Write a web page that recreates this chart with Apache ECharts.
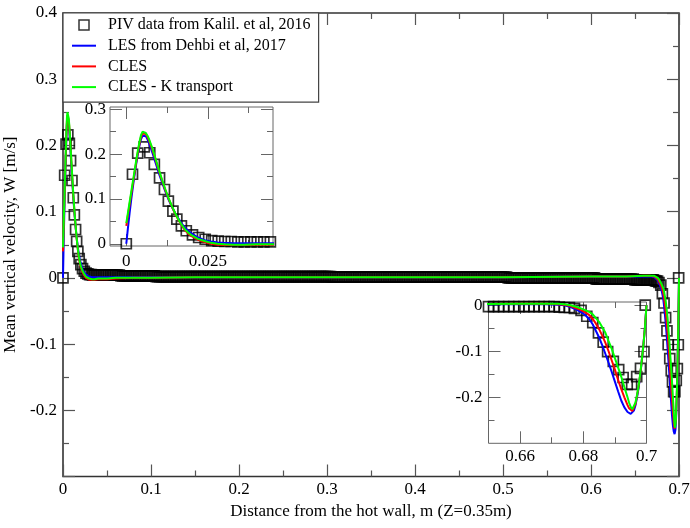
<!DOCTYPE html>
<html><head><meta charset="utf-8">
<script src="https://cdn.jsdelivr.net/npm/echarts@6/dist/echarts.min.js"></script>
<style>html,body{margin:0;padding:0;background:#fff}#c{width:690px;height:528px}</style>
</head><body><div id="c"></div>
<script>
// ---------- DATA ----------
const seriesNames = ['PIV data from Kalil. et al, 2016', 'LES from Dehbi et al, 2017', 'CLES', 'CLES - K transport'];

// simulation profiles (shared x positions, m)
const lineX = [0,0.0005,0.001,0.0015,0.002,0.0025,0.003,0.0035,0.004,0.0045,
  0.005,0.0055,0.006,0.0065,0.007,0.008,0.009,0.010,0.011,0.012,
  0.013,0.014,0.015,0.016,0.017,0.018,0.019,0.020,0.022,0.024,
  0.026,0.028,0.030,0.033,0.036,0.040,0.045,0.050,0.060,0.080,
  0.100,0.150,0.200,0.300,0.400,0.500,0.600,0.640,0.660,0.668,
  0.672,0.674,0.676,0.678,0.680,0.681,0.682,0.683,0.684,0.685,
  0.686,0.687,0.688,0.689,0.690,0.691,0.692,0.693,0.694,0.6945,
  0.695,0.6955,0.696,0.6965,0.697,0.6975,0.698,0.6985,0.699,0.6995,
  0.700];
const lesW = [0.000,0.035,0.068,0.098,0.126,0.152,0.176,0.198,0.218,0.233,
  0.241,0.243,0.240,0.233,0.224,0.203,0.180,0.157,0.136,0.116,
  0.098,0.082,0.068,0.056,0.045,0.036,0.029,0.023,0.014,0.008,
  0.005,0.003,0.002,0.001,0.001,0.001,0.001,0.001,0.001,0.001,
  0.001,0.001,0.001,0.001,0.001,0.001,0.002,0.002,0.002,0.002,
  0.001,0.000,-0.004,-0.010,-0.018,-0.024,-0.031,-0.042,-0.056,-0.070,
  -0.087,-0.106,-0.125,-0.145,-0.166,-0.187,-0.207,-0.222,-0.232,-0.235,
  -0.236,-0.235,-0.229,-0.218,-0.200,-0.180,-0.153,-0.122,-0.088,-0.048,
  0.000];
const clesW = [0.040,0.064,0.087,0.110,0.133,0.157,0.180,0.202,0.222,0.238,
  0.246,0.248,0.245,0.238,0.230,0.210,0.187,0.163,0.140,0.119,
  0.100,0.083,0.067,0.053,0.041,0.030,0.023,0.017,0.009,0.004,
  0.000,-0.002,-0.003,-0.003,-0.003,-0.002,-0.002,-0.002,-0.001,0.000,
  0.000,0.001,0.001,0.001,0.001,0.001,0.002,0.002,0.003,0.003,
  0.002,0.001,-0.002,-0.007,-0.013,-0.017,-0.022,-0.030,-0.040,-0.052,
  -0.066,-0.082,-0.100,-0.120,-0.140,-0.162,-0.182,-0.200,-0.217,-0.224,
  -0.228,-0.230,-0.226,-0.215,-0.197,-0.177,-0.152,-0.121,-0.088,-0.049,
  0.000];
const clesKW = [0.046,0.069,0.092,0.115,0.138,0.161,0.184,0.206,0.226,0.242,
  0.250,0.251,0.247,0.241,0.233,0.213,0.189,0.165,0.142,0.121,
  0.101,0.084,0.068,0.054,0.042,0.032,0.025,0.019,0.011,0.006,
  0.002,0.000,-0.001,-0.002,-0.002,-0.001,-0.001,-0.001,0.000,0.000,
  0.000,0.001,0.001,0.001,0.001,0.001,0.002,0.002,0.003,0.003,
  0.003,0.002,0.000,-0.004,-0.009,-0.012,-0.015,-0.020,-0.028,-0.036,
  -0.048,-0.060,-0.078,-0.095,-0.115,-0.135,-0.155,-0.178,-0.200,-0.212,
  -0.221,-0.226,-0.222,-0.212,-0.195,-0.175,-0.150,-0.120,-0.088,-0.050,
  0.000];

// PIV measurements: near hot wall
const pivWallX = [0,0.0019,0.0035,0.0055,0.0072,0.0086,0.0102,0.0117,0.0129,0.0143,
  0.0155,0.0169,0.0184,0.0203,0.0222,0.0242,0.0262,0.0282,0.0302,0.0322,
  0.0342,0.0362,0.0382,0.0402,0.0422,0.0442];
const pivWallW = [0,0.155,0.202,0.216,0.203,0.177,0.147,0.121,0.095,0.073,
  0.055,0.040,0.029,0.020,0.014,0.010,0.007,0.006,0.005,0.005,
  0.004,0.004,0.004,0.004,0.004,0.004];
// PIV measurements: core of the cavity
const pivCoreX = [
  0.046,0.048,0.05,0.052,0.054,0.056,0.058,0.06,0.062,0.064,
  0.066,0.068,0.07,0.072,0.074,0.076,0.078,0.08,0.082,0.084,
  0.086,0.088,0.09,0.092,0.094,0.096,0.098,0.1,0.102,0.104,
  0.106,0.108,0.11,0.112,0.114,0.116,0.118,0.12,0.122,0.124,
  0.126,0.128,0.13,0.132,0.134,0.136,0.138,0.14,0.142,0.144,
  0.146,0.148,0.15,0.152,0.154,0.156,0.158,0.16,0.162,0.164,
  0.166,0.168,0.17,0.172,0.174,0.176,0.178,0.18,0.182,0.184,
  0.186,0.188,0.19,0.192,0.194,0.196,0.198,0.2,0.202,0.204,
  0.206,0.208,0.21,0.212,0.214,0.216,0.218,0.22,0.222,0.224,
  0.226,0.228,0.23,0.232,0.234,0.236,0.238,0.24,0.242,0.244,
  0.246,0.248,0.25,0.252,0.254,0.256,0.258,0.26,0.262,0.264,
  0.266,0.268,0.27,0.272,0.274,0.276,0.278,0.28,0.282,0.284,
  0.286,0.288,0.29,0.292,0.294,0.296,0.298,0.3,0.302,0.304,
  0.306,0.308,0.31,0.312,0.314,0.316,0.318,0.32,0.322,0.324,
  0.326,0.328,0.33,0.332,0.334,0.336,0.338,0.34,0.342,0.344,
  0.346,0.348,0.35,0.352,0.354,0.356,0.358,0.36,0.362,0.364,
  0.366,0.368,0.37,0.372,0.374,0.376,0.378,0.38,0.382,0.384,
  0.386,0.388,0.39,0.392,0.394,0.396,0.398,0.4,0.402,0.404,
  0.406,0.408,0.41,0.412,0.414,0.416,0.418,0.42,0.422,0.424,
  0.426,0.428,0.43,0.432,0.434,0.436,0.438,0.44,0.442,0.444,
  0.446,0.448,0.45,0.452,0.454,0.456,0.458,0.46,0.462,0.464,
  0.466,0.468,0.47,0.472,0.474,0.476,0.478,0.48,0.482,0.484,
  0.486,0.488,0.49,0.492,0.494,0.496,0.498,0.5,0.502,0.504,
  0.506,0.508,0.51,0.512,0.514,0.516,0.518,0.52,0.522,0.524,
  0.526,0.528,0.53,0.532,0.534,0.536,0.538,0.54,0.542,0.544,
  0.546,0.548,0.55,0.552,0.554,0.556,0.558,0.56,0.562,0.564,
  0.566,0.568,0.57,0.572,0.574,0.576,0.578,0.58,0.582,0.584,
  0.586,0.588,0.59,0.592,0.594,0.596,0.598,0.6,0.602,0.604,
  0.606,0.608,0.61,0.612,0.614,0.616,0.618,0.62,0.622,0.624,
  0.626,0.628,0.63,0.632,0.634,0.636,0.638,0.64,0.642,0.644,
  0.646,0.648];
const pivCoreW = [
  0.004,0.004,0.004,0.004,0.004,0.004,0.004,0.004,0.004,0.004,
  0.003,0.003,0.003,0.003,0.003,0.003,0.003,0.003,0.003,0.003,
  0.003,0.003,0.003,0.003,0.003,0.003,0.003,0.003,0.003,0.003,
  0.002,0.002,0.002,0.002,0.002,0.002,0.002,0.002,0.002,0.002,
  0.002,0.002,0.002,0.002,0.002,0.002,0.002,0.002,0.002,0.002,
  0.002,0.002,0.002,0.002,0.002,0.002,0.002,0.002,0.002,0.002,
  0.002,0.002,0.002,0.002,0.002,0.002,0.002,0.002,0.002,0.002,
  0.002,0.002,0.002,0.002,0.002,0.002,0.002,0.002,0.002,0.002,
  0.002,0.002,0.002,0.002,0.002,0.002,0.002,0.002,0.002,0.002,
  0.002,0.002,0.002,0.002,0.002,0.002,0.002,0.002,0.002,0.002,
  0.002,0.002,0.002,0.002,0.002,0.002,0.002,0.002,0.002,0.002,
  0.002,0.002,0.002,0.002,0.002,0.002,0.002,0.002,0.002,0.002,
  0.002,0.002,0.002,0.002,0.002,0.002,0.002,0.002,0.002,0.002,
  0.001,0.001,0.001,0.001,0.001,0.001,0.001,0.001,0.001,0.001,
  0.001,0.001,0.001,0.001,0.001,0.001,0.001,0.001,0.001,0.001,
  0.001,0.001,0.001,0.001,0.001,0.001,0.001,0.001,0.001,0.001,
  0.001,0.001,0.001,0.001,0.001,0.001,0.001,0.001,0.001,0.001,
  0.001,0.001,0.001,0.001,0.001,0.001,0.001,0.001,0.001,0.001,
  0.001,0.001,0.001,0.001,0.001,0.001,0.001,0.001,0.001,0.001,
  0.001,0.001,0.001,0.001,0.001,0.001,0.001,0.001,0.001,0.001,
  0.001,0.001,0.001,0.001,0.001,0.001,0.001,0.001,0.001,0.001,
  0.001,0.001,0.001,0.001,0.001,0.001,0.001,0.001,0.001,0.001,
  0.001,0.001,0.001,0.001,0.001,0.001,0.001,0.001,0.001,0.001,
  0,0,0,0,0,0,0,0,0,0,
  0,0,0,0,0,0,0,0,0,0,
  0,0,0,0,0,0,0,0,0,0,
  0,0,0,0,0,0,0,0,0,0,
  0,0,0,0,0,0,0,0,0,0,
  -0.002,-0.002,-0.002,-0.002,-0.002,-0.002,-0.002,-0.002,-0.002,-0.002,
  -0.002,-0.002,-0.002,-0.002,-0.002,-0.002,-0.002,-0.002,-0.002,-0.002,
  -0.002,-0.002];
// PIV measurements: near cold wall
const pivColdX = [0.650,0.6516,0.6532,0.6548,0.6564,0.658,0.6596,0.6612,0.6628,0.6644,
  0.666,0.6676,0.6692,0.6708,0.6724,0.674,0.6756,
  0.6772,0.6793,0.6811,0.6830,0.6848,0.6863,0.6877,0.6895,0.6912,0.6926,
  0.6939,0.6953,0.6969,0.6981,0.6992,0.6996];
const pivColdW = [-0.003,-0.003,-0.003,-0.003,-0.003,-0.003,-0.003,-0.003,-0.003,-0.003,
  -0.003,-0.003,-0.003,-0.003,-0.004,-0.005,-0.005,
  -0.007,-0.011,-0.024,-0.038,-0.060,-0.080,-0.101,-0.122,-0.140,-0.157,
  -0.172,-0.172,-0.155,-0.137,-0.101,0.000];

// axis ticks
const insetAXMajor = [0, 0.025], insetAXMinor = [0.0125, 0.0375];
const insetAYMajor = [0, 0.1, 0.2, 0.3], insetAYMinor = [0.05, 0.15, 0.25];
const insetBXMajor = [0.66, 0.68, 0.7], insetBXMinor = [0.67, 0.69];
const insetBYMajor = [0, -0.1, -0.2], insetBYMinor = [-0.05, -0.15, -0.25];

// ---------- BUILD ----------
const FONT = 'Liberation Serif';
const pair = (xs, ys) => xs.map((x, i) => [x, ys[i]]);
const pivData = pair(pivWallX, pivWallW).concat(pair(pivCoreX, pivCoreW), pair(pivColdX, pivColdW));
const lesData = pair(lineX, lesW), clesData = pair(lineX, clesW), clesKData = pair(lineX, clesKW);
const lineColors = ['#0000ff', '#ff0000', '#00ff00'];

function mainAxis(dim, pos, showLabel) {
  const isX = dim === 'x';
  const a = {
    type: 'value', gridIndex: 0, position: pos,
    min: isX ? 0 : -0.3, max: isX ? 0.7 : 0.4, interval: 0.1,
    axisLine: {show: false, onZero: false},
    splitLine: {show: false}, minorSplitLine: {show: false},
    axisTick: {show: true, inside: true, length: 12, lineStyle: {color: '#555', width: 1.2}},
    minorTick: {show: true, splitNumber: 2, length: 6, lineStyle: {color: '#555', width: 1.2}},
    axisLabel: showLabel ? {
      show: true, margin: isX ? 5 : 6, fontFamily: FONT, fontSize: 17, color: '#000',
      formatter: v => (!isX && Math.abs(v + 0.3) < 1e-9) ? '' : String(+v.toFixed(3))
    } : {show: false}
  };
  if (showLabel) {
    a.name = isX ? 'Distance from the hot wall, m (Z=0.35m)' : 'Mean vertical velocity, W [m/s]';
    a.nameLocation = 'middle';
    a.nameGap = isX ? 27 : 37;
    a.nameTextStyle = {fontFamily: FONT, fontSize: 17, color: '#000'};
  }
  return a;
}

function insetAxes(dim, gridIndex, min, max, major, minor, labelMargin) {
  const pos = dim === 'x' ? ['bottom', 'top'] : ['left', 'right'];
  const make = (p, vals, len, lab) => ({
    type: 'value', gridIndex, min, max, position: p,
    axisLine: {show: false, onZero: false},
    splitLine: {show: false},
    axisTick: {show: true, inside: true, length: len, customValues: vals, lineStyle: {color: '#666', width: 1}},
    axisLabel: lab ? {show: true, customValues: vals, margin: labelMargin, fontFamily: FONT, fontSize: 17, color: '#000'} : {show: false}
  });
  return [make(pos[0], major, 12, true), make(pos[0], minor, 6, false), make(pos[1], major, 12, false), make(pos[1], minor, 6, false)];
}

function seriesSet(ai) {
  const s = [{
    type: 'scatter', name: seriesNames[0], xAxisIndex: ai, yAxisIndex: ai, data: pivData,
    symbol: 'rect', symbolSize: 10, clip: true, z: 2,
    itemStyle: {color: 'rgba(0,0,0,0)', borderColor: '#000', borderWidth: 1.7}
  }];
  [lesData, clesData, clesKData].forEach((d, k) => s.push({
    type: 'line', name: seriesNames[k + 1], xAxisIndex: ai, yAxisIndex: ai, data: d,
    symbol: 'none', showSymbol: false, clip: true, z: 3 + k,
    lineStyle: {color: lineColors[k], width: 2}, itemStyle: {color: lineColors[k]}
  }));
  return s;
}

const chart = echarts.init(document.getElementById('c'), null, {renderer: 'canvas'});
chart.setOption({
  animation: false,
  backgroundColor: '#fff',
  grid: [
    {left: 63, top: 13, width: 616, height: 463.5, show: true, borderColor: '#333', borderWidth: 1.6,
     backgroundColor: 'rgba(0,0,0,0)', containLabel: false, outerBoundsMode: 'none'},
    {left: 110, top: 107, width: 163, height: 139, show: true, borderColor: '#666', borderWidth: 1,
     backgroundColor: '#fff', containLabel: false, outerBoundsMode: 'none'},
    {left: 488.5, top: 302, width: 158, height: 141.3, show: true, borderColor: '#666', borderWidth: 1,
     backgroundColor: '#fff', containLabel: false, outerBoundsMode: 'none'}
  ],
  xAxis: [mainAxis('x', 'bottom', true), mainAxis('x', 'top', false)]
    .concat(insetAxes('x', 1, -0.005, 0.045, insetAXMajor, insetAXMinor, 7))
    .concat(insetAxes('x', 2, 0.65, 0.70, insetBXMajor, insetBXMinor, 5)),
  yAxis: [mainAxis('y', 'left', true), mainAxis('y', 'right', false)]
    .concat(insetAxes('y', 1, -0.005, 0.305, insetAYMajor, insetAYMinor, 4))
    .concat(insetAxes('y', 2, -0.3, 0.007, insetBYMajor, insetBYMinor, 6)),
  legend: {
    left: 63, top: 13, orient: 'vertical',
    padding: [4, 8, 7, 9], itemGap: 4.7, itemWidth: 24, itemHeight: 14,
    backgroundColor: '#fff', borderColor: '#444', borderWidth: 1.2,
    selectedMode: false,
    textStyle: {fontFamily: FONT, fontSize: 16, color: '#000', padding: [0, 0, 0, 7]},
    data: [
      {name: seriesNames[0], icon: 'path://M0,0M14,14M2,2L12,2L12,12L2,12Z',
       itemStyle: {color: 'rgba(0,0,0,0)', borderColor: '#000', borderWidth: 1.5}},
      {name: seriesNames[1], icon: 'path://M0,0L24,0L24,2L0,2Z', itemStyle: {color: lineColors[0], borderWidth: 0}},
      {name: seriesNames[2], icon: 'path://M0,0L24,0L24,2L0,2Z', itemStyle: {color: lineColors[1], borderWidth: 0}},
      {name: seriesNames[3], icon: 'path://M0,0L24,0L24,2L0,2Z', itemStyle: {color: lineColors[2], borderWidth: 0}}
    ]
  },
  series: seriesSet(0).concat(seriesSet(2), seriesSet(6))
});
</script>
</body></html>
